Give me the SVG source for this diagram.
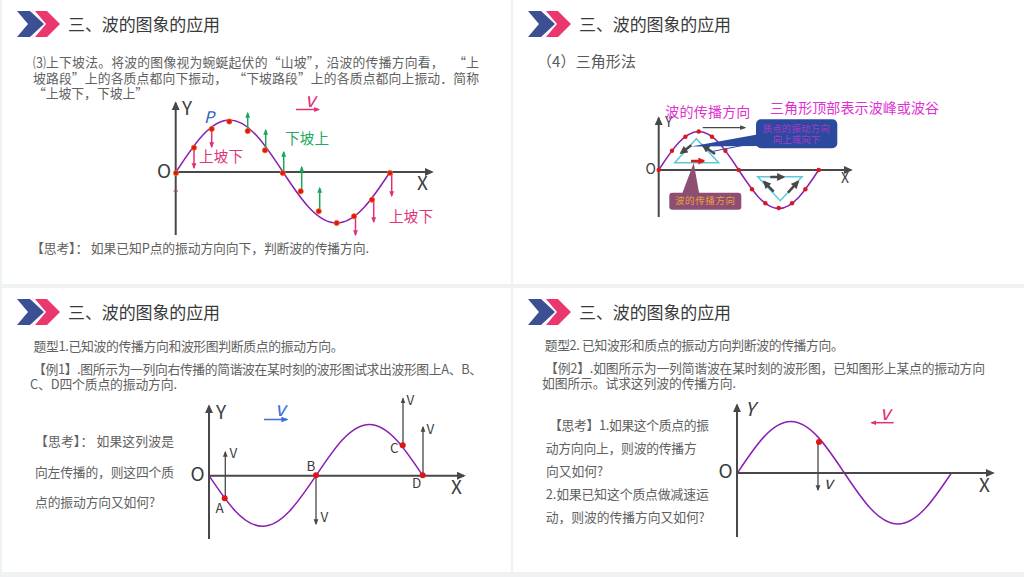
<svg xmlns="http://www.w3.org/2000/svg" width="1024" height="577" viewBox="0 0 1024 577">
<style>
text{font-family:"Noto Sans CJK SC","Noto Sans",sans-serif;fill:#565656}
.title{font-size:17px;fill:#3a3a3a}
.b{font-size:12.8px;fill:#616161}
.lat{fill:#3c3c3c}
.ax{stroke:#484848;stroke-width:2;fill:none}
.wave{stroke:#8a1fb4;stroke-width:1.5;fill:none}
.red{fill:#e01515}
.dk{stroke:#484848;stroke-width:1.3;fill:none;marker-end:url(#mDk)}
.pk{stroke:#e0307a;stroke-width:1.5;fill:none;marker-end:url(#mPk)}
.gr{stroke:#18a858;stroke-width:1.5;fill:none;marker-end:url(#mGr)}
.mag{fill:#e030d0;font-size:14px}
.pl{fill:#e0357a;font-size:14.6px}
</style>
<defs>
<marker id="mAx" markerUnits="userSpaceOnUse" markerWidth="9" markerHeight="9" viewBox="0 0 10 10" refX="8" refY="5" orient="auto"><path d="M0 0.5L10 5L0 9.500z" fill="#484848"/></marker>
<marker id="mDk" markerUnits="userSpaceOnUse" markerWidth="6" markerHeight="6" viewBox="0 0 10 10" refX="8" refY="5" orient="auto"><path d="M0 1L10 5L0 9z" fill="#484848"/></marker>
<marker id="mDkB" markerUnits="userSpaceOnUse" markerWidth="9" markerHeight="8" viewBox="0 0 10 10" refX="8" refY="5" orient="auto"><path d="M0 0L10 5L0 10z" fill="#484848"/></marker>
<marker id="mPk" markerUnits="userSpaceOnUse" markerWidth="6" markerHeight="6" viewBox="0 0 10 10" refX="8" refY="5" orient="auto"><path d="M0 1L10 5L0 9z" fill="#e0307a"/></marker>
<marker id="mGr" markerUnits="userSpaceOnUse" markerWidth="6" markerHeight="6" viewBox="0 0 10 10" refX="8" refY="5" orient="auto"><path d="M0 1L10 5L0 9z" fill="#18a858"/></marker>
<marker id="mBl" markerUnits="userSpaceOnUse" markerWidth="7" markerHeight="7" viewBox="0 0 10 10" refX="8" refY="5" orient="auto"><path d="M0 1L10 5L0 9z" fill="#3a6fd8"/></marker>
<marker id="mRd" markerUnits="userSpaceOnUse" markerWidth="8" markerHeight="7" viewBox="0 0 10 10" refX="8" refY="5" orient="auto"><path d="M0 0L10 5L0 10z" fill="#e01515"/></marker>
<g id="hdr">
<path d="M17 11H30L44 24L30 37H17L28 24z" fill="#3c4f94"/>
<path d="M35 11H47L60 24L47 37H35L46 24z" fill="#e8386f"/>
<text class="title" x="68" y="31" textLength="152">三、波的图象的应用</text>
</g>
</defs>

<rect width="1024" height="577" fill="#eef2f2"/>
<rect x="2" y="0" width="509" height="284" fill="#fff"/>
<rect x="513" y="0" width="511" height="284" fill="#fff"/>
<rect x="2" y="288" width="509" height="284" fill="#fff"/>
<rect x="513" y="288" width="511" height="284" fill="#fff"/>

<g id="panel1">
<use href="#hdr"/>
<g id="p1-text">
<text class="b" x="33" y="67" textLength="446">⑶上下坡法。将波的图像视为蜿蜒起伏的“山坡”，沿波的传播方向看，&#160;&#160;&#160;“上</text>
<text class="b" x="33" y="83" textLength="446">坡路段”上的各质点都向下振动，&#160;&#160;“下坡路段”上的各质点都向上振动．简称</text>
<text class="b" x="33" y="98" textLength="115">“上坡下，下坡上”</text>
<text class="b" x="31" y="253" textLength="338">【思考】：&#160;如果已知P点的振动方向向下，判断波的传播方向.</text>
</g>
<g id="p1-wave">
<path class="wave" d="M176 172C193.400 145.400 210.100 120 229.500 120C248.900 120 265.600 145.400 283 172C300.400 198.600 317.100 223 336.500 223C355.900 223 372.600 198.600 390 172"/>
</g>
<g id="p1-connectors">
<path class="ax" d="M175.700 235V103" marker-end="url(#mAx)"/>
<path class="ax" d="M175 172H432" marker-end="url(#mAx)"/>
<path class="pk" d="M194 148V168"/><path class="pk" d="M211.700 129V147"/>
<path class="pk" d="M355.500 216V235"/><path class="pk" d="M373.700 200V222"/><path class="pk" d="M391.700 173V196"/>
<path class="pk" d="M296 109.500H319"/>
<path class="gr" d="M247.700 131V113"/><path class="gr" d="M265.700 150V130"/><path class="gr" d="M283.700 172V152"/><path class="gr" d="M301.700 190V167"/><path class="gr" d="M319.700 211V188"/>
<path d="M173.500 191H178" stroke="#c03060" stroke-width="1"/>
</g>
<g id="p1-dots" class="red" stroke="#f09020" stroke-width=".6">
<circle cx="176" cy="173" r="2.700"/><circle cx="194" cy="147.700" r="2.700"/><circle cx="211.700" cy="129" r="2.700"/><circle cx="229.300" cy="121.500" r="2.700"/><circle cx="247.700" cy="131" r="2.700"/><circle cx="265" cy="150.300" r="2.700"/><circle cx="282.700" cy="173" r="2.700"/><circle cx="300.700" cy="191.300" r="2.700"/><circle cx="318.700" cy="211.300" r="2.700"/><circle cx="336.700" cy="223" r="2.700"/><circle cx="354" cy="216.300" r="2.700"/><circle cx="372" cy="199.700" r="2.700"/><circle cx="390" cy="173" r="2.700"/>
</g>
<g id="p1-labels">
<text class="lat" x="182" y="115" font-size="19">Y</text>
<text class="lat" x="157" y="178" font-size="19">O</text>
<text class="lat" x="417" y="190" font-size="19">X</text>
<text x="204" y="122.500" font-size="16" font-style="italic" style="fill:#2f5fc0">P</text>
<text x="305" y="106.500" font-size="20" font-style="italic" style="fill:#e0307a">v</text>
<text class="pl" x="199" y="162" textLength="44">上坡下</text>
<text class="pl" x="389" y="221.500" textLength="44">上坡下</text>
<text class="pl" x="285" y="144" textLength="44" style="fill:#22aa5c">下坡上</text>
</g>
</g>

<g id="panel2">
<g transform="translate(511 0)"><use href="#hdr"/></g>
<text x="537" y="66.500" font-size="15" textLength="99" style="fill:#5a5a5a">（4）三角形法</text>
<g id="p2-wave">
<path class="wave" d="M658.700 170C671.700 150.300 684.200 131.500 698.700 131.500C713.200 131.500 725.700 150.300 738.700 170C751.700 189.700 764.200 208.500 778.700 208.500C793.200 208.500 805.700 189.700 818.700 170"/>
</g>
<g id="p2-triangles" fill="none" stroke="#5cc8d8" stroke-width="1.500">
<path d="M696.300 138.700L674.700 162.700H718.700z"/>
<path d="M757.700 176.700H802L780.300 200.700z"/>
</g>
<g id="p2-connectors">
<path class="ax" d="M658.700 217V118" marker-end="url(#mAx)"/>
<path class="ax" d="M658 170H851" marker-end="url(#mAx)"/>
<path class="dk" d="M702.700 127.700H745"/>
<path d="M691 161H704" stroke="#e01515" stroke-width="2.500" marker-end="url(#mRd)"/>
<g stroke="#484848" stroke-width="2.500" fill="none">
<path d="M691.300 145.300L681 153" marker-end="url(#mDkB)"/>
<path d="M715 154L703 145.500" marker-end="url(#mDkB)"/>
<path d="M770.300 177H783.500" marker-end="url(#mDkB)"/>
<path d="M773.700 191.700L764 181.700" marker-end="url(#mDkB)"/>
<path d="M788 192.700L798 181.700" marker-end="url(#mDkB)"/>
</g>
</g>
<g id="p2-dots" class="red">
<circle cx="658.700" cy="170" r="2.200"/><circle cx="672" cy="150.700" r="2.200"/><circle cx="685.400" cy="136.700" r="2.200"/><circle cx="698.700" cy="131.500" r="2.200"/><circle cx="712" cy="136.700" r="2.200"/><circle cx="725.400" cy="150.700" r="2.200"/><circle cx="738.700" cy="170" r="2.200"/><circle cx="752" cy="189.300" r="2.200"/><circle cx="765.400" cy="203.300" r="2.200"/><circle cx="778.700" cy="208" r="2.200"/><circle cx="792" cy="203.300" r="2.200"/><circle cx="805.400" cy="189.300" r="2.200"/><circle cx="818.700" cy="170" r="2.200"/>
</g>
<g id="callout-vibration">
<path d="M760 134L691 146.500L760 146z" fill="#2b4a9e"/>
<path d="M760 142L712 151.500" stroke="#2b4a9e" stroke-width="1"/>
<rect x="756" y="119.300" width="81.300" height="29" rx="5" fill="#2b4a9e"/>
<text x="762.700" y="131.700" font-size="9.500" textLength="67" style="fill:#a838c8">质点的振动方向</text>
<text x="772.700" y="143.300" font-size="9.500" textLength="47.500" style="fill:#a838c8">向上或向下</text>
</g>
<g id="callout-direction">
<path d="M693.700 163L682 194H699.300z" fill="#8e4e72"/>
<rect x="669.300" y="192.700" width="72" height="17" rx="3" fill="#8e4e72"/>
<text x="675" y="204.300" font-size="9.500" textLength="60" style="fill:#e8a040">波的传播方向</text>
</g>
<g id="p2-labels">
<text class="lat" x="665" y="127" font-size="14">Y</text>
<text class="lat" x="645.500" y="174" font-size="14">O</text>
<text class="lat" x="841" y="183" font-size="14">X</text>
<text class="mag" x="665.300" y="117.300" textLength="85">波的传播方向</text>
<text class="mag" x="770" y="113.300" textLength="169">三角形顶部表示波峰或波谷</text>
</g>
</g>

<g id="panel3">
<g transform="translate(0 288)"><use href="#hdr"/></g>
<g id="p3-text">
<text class="b" x="33.500" y="351" textLength="310">题型1.已知波的传播方向和波形图判断质点的振动方向。</text>
<text class="b" x="33" y="374" textLength="449">【例1】.图所示为一列向右传播的简谐波在某时刻的波形图试求出波形图上A、B、</text>
<text class="b" x="30" y="389" textLength="147">C、D四个质点的振动方向.</text>
<text class="b" x="35" y="446" textLength="139">【思考】：&#160;如果这列波是</text>
<text class="b" x="35" y="476.700" textLength="139">向左传播的，则这四个质</text>
<text class="b" x="35" y="507" textLength="120">点的振动方向又如何?</text>
</g>
<g id="p3-wave">
<path class="wave" d="M209 475.700C226.400 501.600 243.100 526.200 262.400 526.200C281.700 526.200 298.600 501.600 316 475.700C333.400 449.600 350.100 424.500 369.400 424.500C388.700 424.500 405.400 449.600 422.800 475.700"/>
</g>
<g id="p3-connectors">
<path class="ax" d="M209 539V406" marker-end="url(#mAx)"/>
<path class="ax" d="M209 475.700H464" marker-end="url(#mAx)"/>
<path class="dk" d="M225.300 498V452"/>
<path class="dk" d="M316 476V524"/>
<path class="dk" d="M403 445V398.500"/>
<path class="dk" d="M423 475V427"/>
<path d="M264 419.500H287" stroke="#3a6fd8" stroke-width="1.500" marker-end="url(#mBl)"/>
</g>
<g id="p3-dots" class="red">
<circle cx="224.700" cy="498.300" r="3"/><circle cx="316" cy="475.300" r="3"/><circle cx="402.700" cy="445.300" r="3"/><circle cx="422.700" cy="475.300" r="3"/>
</g>
<g id="p3-labels">
<text class="lat" x="216" y="419" font-size="19">Y</text>
<text class="lat" x="190.500" y="481" font-size="19">O</text>
<text class="lat" x="451" y="494" font-size="19">X</text>
<text x="275" y="416" font-size="20" font-style="italic" style="fill:#3a6fd8">v</text>
<text class="lat" x="229.500" y="458" font-size="13.500">V</text>
<text class="lat" x="320.500" y="522" font-size="13.500">V</text>
<text class="lat" x="406.500" y="405" font-size="13.500">V</text>
<text class="lat" x="426.500" y="434" font-size="13.500">V</text>
<text class="lat" x="215.500" y="512.500" font-size="13.500">A</text>
<text class="lat" x="306.500" y="471" font-size="13.500">B</text>
<text class="lat" x="390" y="452.500" font-size="13.500">C</text>
<text class="lat" x="412" y="488" font-size="13.500">D</text>
</g>
</g>

<g id="panel4">
<g transform="translate(511 288)"><use href="#hdr"/></g>
<g id="p4-text">
<text class="b" x="544.700" y="349.700" textLength="299">题型2. 已知波形和质点的振动方向判断波的传播方向。</text>
<text class="b" x="545" y="373" textLength="440">【例2】.如图所示为一列简谐波在某时刻的波形图，已知图形上某点的振动方向</text>
<text class="b" x="542" y="388" textLength="194">如图所示。试求这列波的传播方向.</text>
<text class="b" x="549" y="429.700" textLength="160">【思考】1.如果这个质点的振</text>
<text class="b" x="545.700" y="453" textLength="151">动方向向上，则波的传播方</text>
<text class="b" x="546" y="475.700" textLength="57">向又如何?</text>
<text class="b" x="545.700" y="498.700" textLength="163">2.如果已知这个质点做减速运</text>
<text class="b" x="545.700" y="521.700" textLength="159">动，则波的传播方向又如何?</text>
</g>
<g id="p4-wave">
<path class="wave" d="M737 473C754.400 446.900 771.100 421.500 790.500 421.500C809.900 421.500 826.600 446.900 844 473C861.400 499.100 878.100 524 897.500 524C916.900 524 933.600 499.100 951 473" transform="translate(.4 0)"/>
</g>
<g id="p4-connectors">
<path class="ax" d="M737 537V405" marker-end="url(#mAx)"/>
<path class="ax" d="M737 473H993" marker-end="url(#mAx)"/>
<path class="dk" d="M818 442V490"/>
<path class="pk" d="M893.700 422.700H871.500"/>
</g>
<g id="p4-dots" class="red"><circle cx="819" cy="442" r="3"/></g>
<g id="p4-labels">
<text class="lat" x="745" y="416" font-size="19" font-style="italic">Y</text>
<text class="lat" x="718.500" y="478" font-size="19">O</text>
<text class="lat" x="979" y="491.500" font-size="19">X</text>
<text class="lat" x="824" y="489" font-size="17" font-style="italic">v</text>
<text x="880" y="420" font-size="20" font-style="italic" style="fill:#e0307a">v</text>
</g>
</g>
</svg>
